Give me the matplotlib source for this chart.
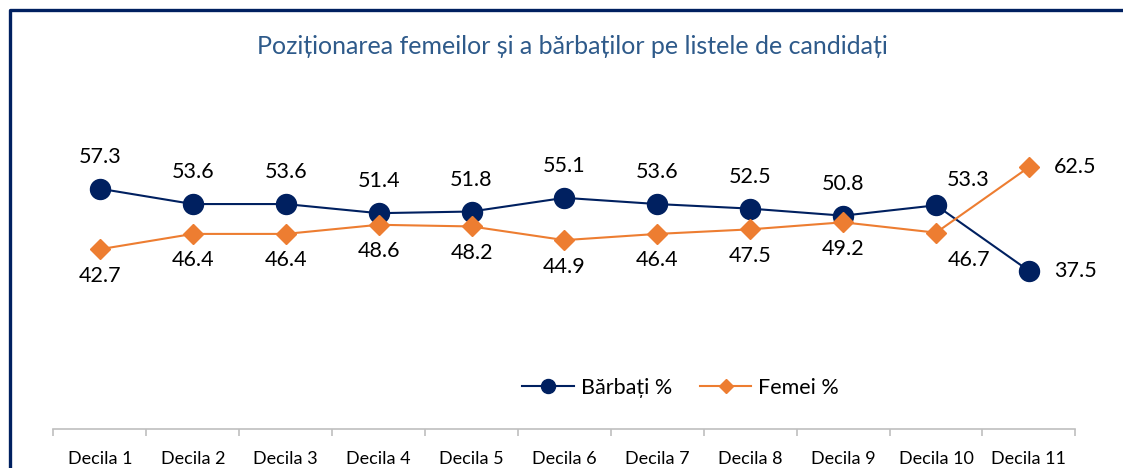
import matplotlib.pyplot as plt
from matplotlib.lines import Line2D

plt.rcParams['font.family'] = ['Lato', 'DejaVu Sans']

categories = ["Decila 1", "Decila 2", "Decila 3", "Decila 4", "Decila 5", "Decila 6",
              "Decila 7", "Decila 8", "Decila 9", "Decila 10", "Decila 11"]
barbati = [57.3, 53.6, 53.6, 51.4, 51.8, 55.1, 53.6, 52.5, 50.8, 53.3, 37.5]
femei = [42.7, 46.4, 46.4, 48.6, 48.2, 44.9, 46.4, 47.5, 49.2, 46.7, 62.5]

navy = "#002060"
orange = "#ED7D31"
x = list(range(len(categories)))

fig = plt.figure(figsize=(11.23, 4.68), dpi=100)
ax = fig.add_axes([0.0476, 0.0833, 0.910, 0.626])

ax.plot(x, barbati, color=navy, lw=1.5, marker='o', ms=14.4, label="Bărbați %", zorder=3)
ax.plot(x, femei, color=orange, lw=1.5, marker='D', ms=10, label="Femei %", zorder=3)

# data labels, offsets in points from the marker
for i in x:
    if i == 10:
        off_b, off_f, ha = (18, 0), (18, 0), 'left'
    elif i == 9:
        off_b, off_f, ha = (23, 18), (24, -20), 'center'
    else:
        off_b, off_f, ha = (0, 23), (0, -19), 'center'
    ax.annotate(f"{barbati[i]:.1f}", (i, barbati[i]), xytext=off_b, textcoords='offset points',
                ha=ha, va='center', fontsize=15.5, color='#000000')
    ax.annotate(f"{femei[i]:.1f}", (i, femei[i]), xytext=off_f, textcoords='offset points',
                ha=ha, va='center', fontsize=15.5, color='#000000')

ax.set_xlim(-0.5, 10.5)
ax.set_ylim(-0.65, 70)
ax.set_yticks([])
for s in ['left', 'right', 'top']:
    ax.spines[s].set_visible(False)
ax.spines['bottom'].set_color('#BFBFBF')
ax.spines['bottom'].set_linewidth(1.2)

ax.set_xticks([i - 0.5 for i in range(12)])
ax.set_xticklabels([])
ax.set_xticks(x, minor=True)
ax.set_xticklabels(categories, minor=True, fontsize=13)
ax.tick_params(axis='x', which='major', length=5, color='#BFBFBF', width=1.2)
ax.tick_params(axis='x', which='minor', length=0, pad=16)

fig.text(0.510, 1 - 47 / 468, "Poziționarea femeilor și a bărbaților pe listele de candidați",
         ha='center', va='center', fontsize=18, color='#2E5A8A')

fig.legend(loc='center', bbox_to_anchor=(0.606, 1 - 388 / 468), ncol=2, frameon=False,
           fontsize=15.5, handlelength=2.4, columnspacing=1.3, handletextpad=0.3,
           markerscale=0.7)

# chart border (left and top)
fig.add_artist(Line2D([10, 10, 1123], [0, 458, 458], transform=None, color=navy, lw=2.4))

fig.savefig("out.png", dpi=100)
